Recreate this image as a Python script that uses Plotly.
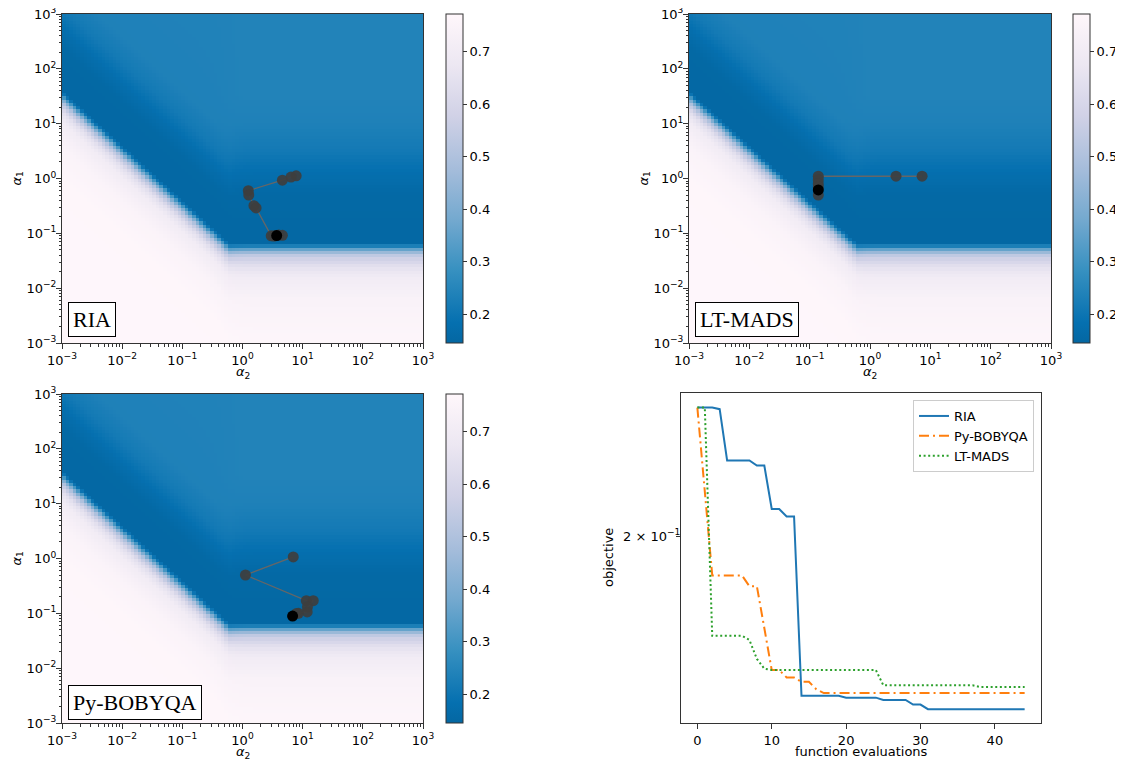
import numpy as np
import plotly.graph_objects as go

# ---------------- data ----------------
# trajectories (alpha_2, alpha_1)
ria_a2 = [7.8, 6.4, 4.6, 1.25, 1.27, 1.55, 1.68, 3.0, 4.6, 3.5, 4.0, 3.3, 3.7]
ria_a1 = [1.12, 1.06, 0.93, 0.60, 0.50, 0.32, 0.29, 0.090, 0.092, 0.090, 0.093, 0.089, 0.091]

mads_a2 = [7.3, 2.7, 0.139, 0.139, 0.139, 0.139, 0.139, 0.139]
mads_a1 = [1.1, 1.1, 1.1, 0.95, 0.80, 0.70, 0.50, 0.62]

boby_a2 = [6.97, 1.12, 11.5, 15.0, 12.0, 11.9, 8.5, 7.9, 6.8]
boby_a1 = [1.07, 0.50, 0.17, 0.17, 0.13, 0.106, 0.10, 0.0995, 0.089]

# objective history
evals = list(range(45))
ria_obj = ([0.250] * 3 + [0.2493] + [0.2281] * 4 + [0.2261] * 2 + [0.2097] * 2 + [0.2070] * 2
           + [0.1517] * 6 + [0.1512] * 5 + [0.1506] * 4 + [0.1494] * 2 + [0.1482] * 14)
boby_obj = ([0.250, 0.217] + [0.1869] * 5 + [0.1834] * 2 + [0.1706] + [0.1586] * 2 + [0.1566] * 2
            + [0.1554] * 2 + [0.1534] + [0.1524] * 28)
mads_obj = ([0.250] * 2 + [0.1683] * 5 + [0.1671, 0.1617, 0.1590] + [0.1586] * 15
            + [0.1545] * 13 + [0.1540] * 7)

# background objective field: profiles read across the valley boundary
# (d = decades of alpha_1 above the boundary)
d_above = [0.0, 0.8, 1.1, 1.5, 2.0, 6.0]
z_above_diag = [0.150, 0.152, 0.172, 0.212, 0.236, 0.242]
d_above_h = [0.0, 0.9, 1.3, 1.7, 2.2, 2.7, 6.0]
z_above_horiz = [0.150, 0.153, 0.178, 0.212, 0.235, 0.242, 0.242]
d_below = [-6.0, -1.6, -1.0, -0.55, -0.35, -0.2, -0.1, 0.0]
z_below_diag = [0.772, 0.766, 0.748, 0.705, 0.63, 0.50, 0.34, 0.16]
d_below_h = [-6.0, -1.8, -1.0, -0.6, -0.4, -0.22, -0.13, -0.06, 0.0]
z_below_horiz = [0.772, 0.765, 0.74, 0.70, 0.64, 0.55, 0.43, 0.30, 0.16]
diag_offset = -1.42      # log10(alpha_1) = diag_offset - log10(alpha_2)
horiz_level = -1.2       # log10(alpha_1) of the flat part
zmin, zmax = 0.145, 0.772

labels = ["RIA", "LT-MADS", "Py-BOBYQA"]
cbar_ticks = [0.2, 0.3, 0.4, 0.5, 0.6, 0.7]
log_ticks = [1e-3, 1e-2, 1e-1, 1e0, 1e1, 1e2, 1e3]
log_ticktext = ["10<sup>−3</sup>", "10<sup>−2</sup>", "10<sup>−1</sup>", "10<sup>0</sup>",
                "10<sup>1</sup>", "10<sup>2</sup>", "10<sup>3</sup>"]

# ---------------- field ----------------
edges = np.linspace(-3, 3, 101)
cent = 0.5 * (edges[:-1] + edges[1:])
U, V = np.meshgrid(cent, cent)
bd = diag_offset - U
bh = np.full_like(U, horiz_level)
B = np.maximum(bd, bh)
D = V - B
corner = diag_offset - horiz_level
wh = 1.0 / (1.0 + np.exp(-(U - corner) / 0.1))
za_d = np.interp(D, d_above, z_above_diag)
za_h = np.interp(D, d_above_h, z_above_horiz)
zb_d = np.interp(D, d_below, z_below_diag)
zb_h = np.interp(D, d_below_h, z_below_horiz)
Zd = np.where(D >= 0, za_d, zb_d)
Zh = np.where(D >= 0, za_h, zb_h)
Z = (1 - wh) * Zd + wh * Zh

colorscale = [
    [0.0, "#0467a2"], [0.0625, "#0570b0"], [0.21875, "#3690c0"], [0.375, "#74a9cf"],
    [0.53125, "#a6bddb"], [0.6875, "#d0d1e6"], [0.84375, "#ece7f2"], [1.0, "#fff7fb"],
]

# page body has an 8px margin: figure occupies window pixels 8..1123 / 8..761
OFF = 8
W, H = 1123 - OFF, 761 - OFF
def fx(px):
    return (px - OFF) / W
def fy(py):
    return 1 - (py - OFF) / H

panels = [
    dict(x=(62, 423), y=(14, 343), cb=446),
    dict(x=(689, 1051), y=(14, 343), cb=1073),
    dict(x=(62, 423), y=(394, 723), cb=446),
]
trajs = [(ria_a2, ria_a1), (mads_a2, mads_a1), (boby_a2, boby_a1)]

fig = go.Figure()
minor_vals = [k * 10.0 ** e for e in range(-3, 3) for k in range(2, 10)]
font = dict(family="DejaVu Sans", size=13, color="#000")

def label(text, x, y, angle=0):
    fig.add_annotation(text=text, xref="paper", yref="paper", x=fx(x), y=fy(y),
                       xanchor="center", yanchor="middle", showarrow=False,
                       textangle=angle, font=font)

for i, p in enumerate(panels):
    n = i + 1
    xa = "x" if n == 1 else f"x{n}"
    ya = "y" if n == 1 else f"y{n}"
    yc = (fy(p["y"][0]) + fy(p["y"][1])) / 2
    ln = fy(p["y"][0]) - fy(p["y"][1])
    fig.add_trace(go.Heatmap(
        x=10 ** edges, y=10 ** edges, z=Z, zmin=zmin, zmax=zmax, colorscale=colorscale,
        zsmooth=False, xaxis=xa, yaxis=ya, hoverinfo="skip",
        colorbar=dict(x=fx(p["cb"]), xanchor="left", y=yc, yanchor="middle", len=ln,
                      lenmode="fraction", thickness=17, xpad=0, ypad=0,
                      outlinewidth=1, outlinecolor="#333", tickvals=cbar_ticks,
                      ticks="outside", ticklen=4, tickcolor="#333", tickfont=font)))
    a2, a1 = trajs[i]
    cols = ["rgba(62,62,62,0.92)"] * (len(a2) - 1) + ["#000000"]
    fig.add_trace(go.Scatter(x=a2, y=a1, mode="lines", line=dict(color="#666", width=1.3),
                             xaxis=xa, yaxis=ya, showlegend=False, hoverinfo="skip"))
    fig.add_trace(go.Scatter(x=a2, y=a1, mode="markers",
                             marker=dict(size=11, color=cols, line=dict(width=0)),
                             xaxis=xa, yaxis=ya, showlegend=False, hoverinfo="skip"))
    common = dict(type="log", ticks="outside", ticklen=5, tickcolor="#333", showline=True,
                  linecolor="#333", linewidth=1, mirror=True, showgrid=False, zeroline=False,
                  tickvals=log_ticks, ticktext=log_ticktext, tickfont=font, automargin=False,
                  ticklabeloverflow="allow",
                  minor=dict(ticks="outside", ticklen=2.5, tickcolor="#333",
                             tickmode="array", tickvals=minor_vals))
    fig.layout[f"xaxis{'' if n == 1 else n}"] = dict(
        common, domain=[fx(p["x"][0]), fx(p["x"][1])], anchor=ya, range=[-3, 3])
    fig.layout[f"yaxis{'' if n == 1 else n}"] = dict(
        common, domain=[fy(p["y"][1]), fy(p["y"][0])], anchor=xa, range=[-3, 3],
        ticklabelstandoff=-3)
    cx = (p["x"][0] + p["x"][1]) / 2
    cy = (p["y"][0] + p["y"][1]) / 2
    label("<i>α</i><sub>2</sub>", cx, p["y"][1] + 29)
    label("<i>α</i><sub>1</sub>", p["x"][0] - 45, cy, -90)
    fig.add_annotation(text=labels[i], xref="paper", yref="paper",
                       x=fx(p["x"][0] + 6), y=fy(p["y"][1] - 6) if i != 2 else fy(p["y"][1] - 3),
                       xanchor="left", yanchor="bottom", showarrow=False,
                       font=dict(family="Liberation Serif", size=22, color="#000"),
                       bordercolor="#000", borderwidth=1, borderpad=4, bgcolor="#fff")

# line chart
fig.add_trace(go.Scatter(x=evals, y=ria_obj, mode="lines", name="RIA",
                         line=dict(color="#1f77b4", width=2), xaxis="x4", yaxis="y4"))
fig.add_trace(go.Scatter(x=evals, y=boby_obj, mode="lines", name="Py-BOBYQA",
                         line=dict(color="#ff7f0e", width=2, dash="10px,4px,2px,4px"),
                         xaxis="x4", yaxis="y4"))
fig.add_trace(go.Scatter(x=evals, y=mads_obj, mode="lines", name="LT-MADS",
                         line=dict(color="#2ca02c", width=2, dash="2px,2.6px"),
                         xaxis="x4", yaxis="y4"))

fig.layout.xaxis4 = dict(domain=[fx(681), fx(1041)], anchor="y4", range=[-2.2, 46.2],
                         tickvals=[0, 10, 20, 30, 40], ticks="outside", ticklen=5,
                         tickcolor="#333", showline=True, linecolor="#333", mirror=True,
                         showgrid=False, zeroline=False, tickfont=font, automargin=False)
fig.layout.yaxis4 = dict(domain=[fy(723), fy(393)], anchor="x4", type="log",
                         range=[np.log10(0.1447), np.log10(0.2564)],
                         tickvals=[0.2], ticktext=["2 × 10<sup>−1</sup>"], ticks="outside",
                         ticklen=4, tickcolor="#333", showline=True, linecolor="#333",
                         mirror=True, showgrid=False, zeroline=False, tickfont=font,
                         automargin=False, ticklabelstandoff=-7)
label("function evaluations", 861, 751)
label("objective", 608, 558, -90)

fig.update_layout(
    width=W, height=H, margin=dict(l=0, r=0, t=0, b=0, autoexpand=False),
    paper_bgcolor="#fff", plot_bgcolor="#fff", font=font,
    legend=dict(x=fx(1034), y=fy(400), xanchor="right", yanchor="top",
                bordercolor="#cccccc", borderwidth=1, bgcolor="#fff",
                font=dict(family="DejaVu Sans", size=13), itemwidth=30,
                tracegroupgap=0),
)

fig.write_html("out.html")
